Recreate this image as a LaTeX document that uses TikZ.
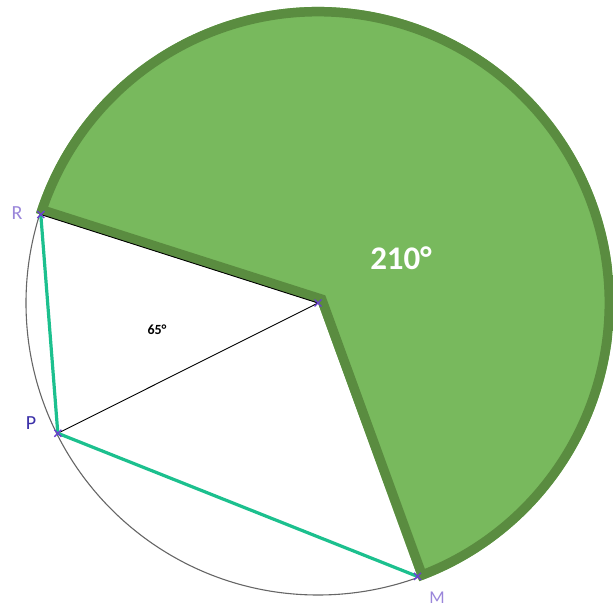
\documentclass[tikz,border=0pt]{standalone}
\usepackage{fontspec}
\usetikzlibrary{calc}
\setmainfont{Carlito}
\definecolor{secfill}{HTML}{78B95D}
\definecolor{secedge}{HTML}{5A8C40}
\definecolor{teal}{HTML}{1CC08E}
\definecolor{ptmark}{HTML}{6A3FD0}
\definecolor{lblite}{HTML}{9A86DA}
\definecolor{lbdark}{HTML}{3A2FA8}
\tikzset{
  ptx/.style={draw=ptmark, line width=1.4pt},
  chord/.style={draw=teal, line width=3.2pt},
  radius line/.style={draw=black, line width=0.9pt},
}
\begin{document}
\begin{tikzpicture}[x=1pt,y=1pt]
\useasboundingbox (0,0) rectangle (613,608);
\coordinate (O) at (318,305);
\coordinate (R) at ($(O)+(162.3:291)$);
\coordinate (P) at ($(O)+(206.6:291)$);
\coordinate (M) at ($(O)+(-70:291)$);
% circle
\node[draw=gray!80!black, line width=1.1pt, circle, minimum size=584pt, inner sep=0pt] (circ) at (O) {};
% sector
\coordinate (Rs) at ($(O)+(162.3:296)$);
\fill[secfill] (O) -- (Rs) arc[start angle=162.3, end angle=-70, radius=296] -- cycle;
\begin{scope}
  \clip (O) -- (Rs) arc[start angle=162.3, end angle=-70, radius=296] -- cycle;
  \draw[secedge, line width=19pt, line join=miter, miter limit=10]
    (O) -- (Rs) arc[start angle=162.3, end angle=-70, radius=296] -- cycle;
\end{scope}
% radii
\draw[radius line] (R) -- (O);
\draw[radius line] (P) -- (O);
% chords
\draw[chord] (R) -- (P);
\draw[chord] (P) -- (M);
% marks
\foreach \c in {R,P,M,O}{
  \draw[ptx] ($(\c)+(-3.5,-3.5)$) -- ($(\c)+(3.5,3.5)$);
  \draw[ptx] ($(\c)+(-3.5,3.5)$) -- ($(\c)+(3.5,-3.5)$);
}
% labels
\node[text=lblite, font=\fontsize{20}{20}\selectfont] (lR) at (17,395) {R};
\node[text=lbdark, font=\fontsize{20}{20}\selectfont] (lP) at (31,185) {P};
\node[text=lblite, font=\fontsize{18}{18}\selectfont] (lM) at (437,10) {M};
\node[text=black, font=\bfseries\fontsize{14}{14}\selectfont] (a65) at (157,278) {65°};
\node[text=white, font=\bfseries\fontsize{33}{33}\selectfont] (a210) at (401,350) {210°};
\end{tikzpicture}
\end{document}
